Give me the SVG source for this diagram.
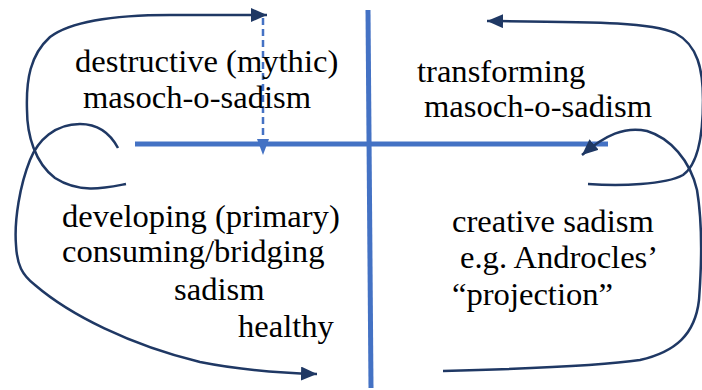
<svg xmlns="http://www.w3.org/2000/svg" width="702" height="390" viewBox="0 0 702 390">
<defs>
<style>
.lbl{font-size:32.6px;fill:#000}
.axis{stroke:#4472C4;stroke-width:5;fill:none}
.curve{stroke:#1F3864;stroke-width:2.5;fill:none;marker-end:url(#ah)}
</style>
<marker id="ah" markerUnits="userSpaceOnUse" markerWidth="17" markerHeight="14" refX="16" refY="7" orient="auto">
<path d="M0,0 L16,7 L0,14 z" fill="#1F3864"/>
</marker>
</defs>
<rect width="702" height="390" fill="#fff"/>
<g id="axes">
<line class="axis" x1="135" y1="144" x2="608" y2="144"/>
<line class="axis" x1="368" y1="10" x2="371" y2="388"/>
</g>
<g id="connectors">
<line x1="263" y1="18" x2="263" y2="142" stroke="#4472C4" stroke-width="2.5" stroke-dasharray="7,4"/>
<polygon points="257,139 269,139 263,155" fill="#4472C4"/>
<path class="curve" d="M126,184 C105,188 80,194 55,178 C35,163 27,135 27,110 C26,80 30,55 50,37 C70,22 110,15 170,15 L267,15"/>
<path class="curve" d="M118,148 C110,133 98,124 80,124 C55,124 38,140 30,160 C20,185 14,220 16,245 C17,265 22,275 35,285 C70,315 130,345 200,362 C240,370 280,373 317,374"/>
<path class="curve" d="M588,184 C620,186 665,185 683,175 C700,163 703,130 703,100 C703,70 698,45 675,33 C650,22 600,22 487,21"/>
<path class="curve" d="M443,371 C520,369 600,366 640,360 C675,352 695,335 699,300 C702,260 702,220 697,190 C690,160 670,138 647,131 C625,126 605,135 582,155"/>
</g>
<g font-family="Liberation Serif, Times New Roman, serif">
<g id="q1"><text class="lbl" x="75" y="72">destructive (mythic)</text><text class="lbl" x="83" y="108">masoch-o-sadism</text></g>
<g id="q2"><text class="lbl" x="417" y="82">transforming</text><text class="lbl" x="424" y="117">masoch-o-sadism</text></g>
<g id="q3"><text class="lbl" x="62" y="227">developing (primary)</text><text class="lbl" x="62" y="262">consuming/bridging</text><text class="lbl" x="174" y="300">sadism</text><text class="lbl" x="238" y="337">healthy</text></g>
<g id="q4"><text class="lbl" x="452" y="232">creative sadism</text><text class="lbl" x="460" y="268">e.g. Androcles’</text><text class="lbl" x="452" y="305">“projection”</text></g>
</g>
</svg>
